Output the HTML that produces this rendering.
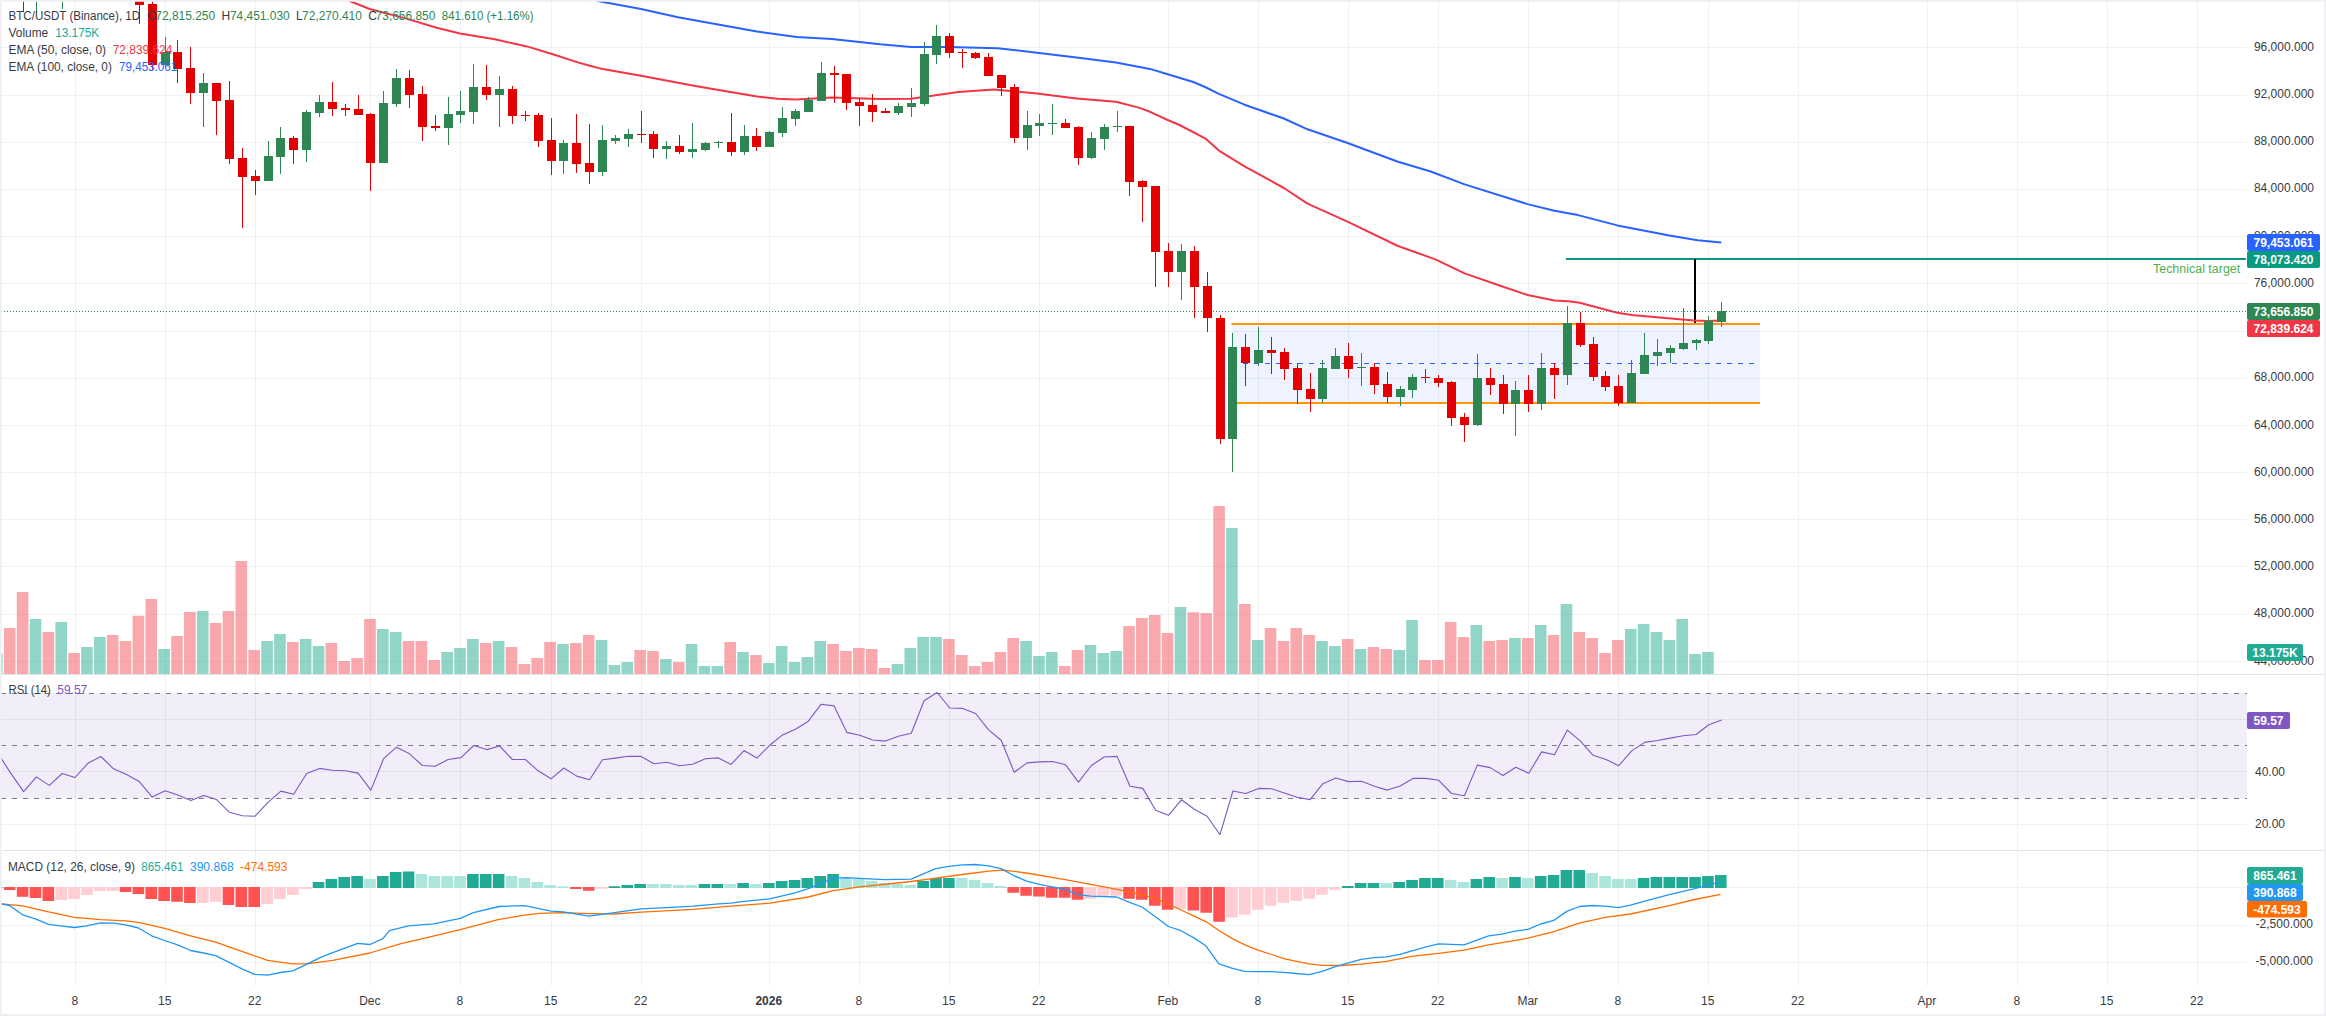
<!DOCTYPE html>
<html><head><meta charset="utf-8"><title>BTC/USDT chart</title>
<style>html,body{margin:0;padding:0;background:#fff;width:2326px;height:1016px;overflow:hidden;position:relative}</style>
</head><body>
<svg width="2326" height="1016" viewBox="0 0 2326 1016" style="position:absolute;left:0;top:0">
<rect x="0" y="0" width="2326" height="1016" fill="#ffffff"/>
<defs>
<clipPath id="cMain"><rect x="0" y="0" width="2247" height="674"/></clipPath>
<clipPath id="cRsi"><rect x="0" y="675" width="2247" height="175"/></clipPath>
<clipPath id="cMacd"><rect x="0" y="851" width="2247" height="135"/></clipPath>
</defs>
<path d="M75.5 0V986 M165.5 0V986 M255.5 0V986 M370.5 0V986 M460.5 0V986 M551.5 0V986 M641.5 0V986 M769.5 0V986 M859.5 0V986 M949.5 0V986 M1039.5 0V986 M1168.5 0V986 M1258.5 0V986 M1348.5 0V986 M1438.5 0V986 M1528.5 0V986 M1618.5 0V986 M1708.5 0V986 M1798.5 0V986 M1927.5 0V986 M2017.5 0V986 M2107.5 0V986 M2197.5 0V986 M0 47.5H2247 M0 95.5H2247 M0 142.5H2247 M0 189.5H2247 M0 236.5H2247 M0 283.5H2247 M0 331.5H2247 M0 378.5H2247 M0 425.5H2247 M0 472.5H2247 M0 519.5H2247 M0 566.5H2247 M0 614.5H2247 M0 661.5H2247 M0 719.5H2247 M0 771.5H2247 M0 824.5H2247 M0 887.5H2247 M0 925.5H2247 M0 962.5H2247" stroke="#e3e6e6" stroke-opacity="0.55" stroke-width="1" fill="none"/>
<g clip-path="url(#cMain)">
<path d="M-8.92 674V653.7H2.68V674Z M29.68 674V619H41.28V674Z M55.41 674V621.9H67.01V674Z M81.14 674V647H92.74V674Z M94.01 674V637H105.61V674Z M158.33 674V648.9H169.93V674Z M196.92 674V610.9H208.53V674Z M261.25 674V641H272.85V674Z M274.12 674V634H285.72V674Z M299.84 674V638.9H311.44V674Z M312.71 674V646.1H324.31V674Z M377.03 674V629.1H388.63V674Z M389.90 674V631.9H401.50V674Z M441.36 674V651.9H452.96V674Z M454.23 674V647.9H465.83V674Z M467.09 674V639H478.69V674Z M492.82 674V640.9H504.42V674Z M557.15 674V643.9H568.75V674Z M595.74 674V640H607.34V674Z M608.61 674V665H620.20V674Z M621.47 674V661.9H633.07V674Z M660.07 674V658.9H671.66V674Z M685.80 674V643.9H697.39V674Z M698.66 674V666.1H710.26V674Z M711.53 674V666.1H723.12V674Z M737.26 674V651.9H748.86V674Z M762.99 674V663H774.58V674Z M775.85 674V646H787.45V674Z M788.72 674V661.9H800.31V674Z M801.58 674V657H813.18V674Z M814.45 674V640.9H826.04V674Z M891.64 674V664H903.24V674Z M904.50 674V647.9H916.10V674Z M917.37 674V636.9H928.96V674Z M930.23 674V636.9H941.83V674Z M1020.29 674V640.9H1031.88V674Z M1033.15 674V656H1044.75V674Z M1046.02 674V651.9H1057.62V674Z M1084.61 674V645.1H1096.21V674Z M1097.48 674V653H1109.08V674Z M1110.34 674V650.9H1121.94V674Z M1174.66 674V607.1H1186.26V674Z M1226.12 674V527.9H1237.72V674Z M1251.86 674V640H1263.45V674Z M1316.18 674V640.9H1327.78V674Z M1329.05 674V646H1340.64V674Z M1354.78 674V649H1366.38V674Z M1393.37 674V650H1404.97V674Z M1406.24 674V619.9H1417.84V674Z M1470.56 674V625H1482.16V674Z M1509.15 674V637.9H1520.75V674Z M1534.88 674V625H1546.48V674Z M1560.62 674V604H1572.21V674Z M1624.94 674V629H1636.54V674Z M1637.81 674V624.1H1649.40V674Z M1650.67 674V632H1662.27V674Z M1663.54 674V640H1675.13V674Z M1676.40 674V619H1688.00V674Z M1689.27 674V654.1H1700.87V674Z M1702.13 674V652H1713.73V674Z" fill="#23a991" fill-opacity="0.5"/>
<path d="M3.95 674V627.9H15.55V674Z M16.81 674V592H28.41V674Z M42.55 674V631.9H54.14V674Z M68.28 674V653.1H79.88V674Z M106.87 674V635.1H118.47V674Z M119.73 674V641H131.34V674Z M132.60 674V615.8H144.20V674Z M145.47 674V599H157.07V674Z M171.19 674V636.1H182.80V674Z M184.06 674V612H195.66V674Z M209.79 674V623H221.39V674Z M222.66 674V610.9H234.26V674Z M235.52 674V561H247.12V674Z M248.38 674V649.9H259.99V674Z M286.98 674V641.9H298.58V674Z M325.57 674V643.1H337.18V674Z M338.44 674V661H350.04V674Z M351.31 674V658H362.91V674Z M364.17 674V619H375.77V674Z M402.76 674V641H414.37V674Z M415.63 674V641H427.23V674Z M428.50 674V660H440.10V674Z M479.95 674V643H491.56V674Z M505.69 674V647H517.29V674Z M518.55 674V664H530.15V674Z M531.42 674V657.9H543.01V674Z M544.28 674V642H555.88V674Z M570.01 674V643H581.61V674Z M582.88 674V635H594.47V674Z M634.34 674V650H645.93V674Z M647.20 674V650.9H658.80V674Z M672.93 674V661.9H684.53V674Z M724.39 674V642H735.99V674Z M750.12 674V654.9H761.72V674Z M827.31 674V643.9H838.91V674Z M840.18 674V650.9H851.77V674Z M853.04 674V647.9H864.64V674Z M865.91 674V649H877.50V674Z M878.77 674V668H890.37V674Z M943.10 674V639H954.69V674Z M955.96 674V654.9H967.56V674Z M968.83 674V666.1H980.42V674Z M981.69 674V661.9H993.29V674Z M994.56 674V651.9H1006.15V674Z M1007.42 674V638.1H1019.02V674Z M1058.88 674V666.1H1070.48V674Z M1071.75 674V650H1083.35V674Z M1123.21 674V626H1134.81V674Z M1136.07 674V618H1147.67V674Z M1148.94 674V615H1160.54V674Z M1161.80 674V633H1173.40V674Z M1187.53 674V612.2H1199.13V674Z M1200.39 674V613.1H1211.99V674Z M1213.26 674V506H1224.86V674Z M1238.99 674V604H1250.59V674Z M1264.72 674V628.1H1276.32V674Z M1277.59 674V640.9H1289.18V674Z M1290.45 674V628.1H1302.05V674Z M1303.32 674V635H1314.91V674Z M1341.91 674V639H1353.51V674Z M1367.64 674V647H1379.24V674Z M1380.51 674V649H1392.11V674Z M1419.10 674V660H1430.70V674Z M1431.97 674V660H1443.57V674Z M1444.83 674V622H1456.43V674Z M1457.70 674V636.9H1469.30V674Z M1483.43 674V640.9H1495.03V674Z M1496.29 674V640H1507.89V674Z M1522.02 674V637.9H1533.62V674Z M1547.75 674V635H1559.35V674Z M1573.48 674V632H1585.08V674Z M1586.35 674V637.9H1597.94V674Z M1599.21 674V653H1610.81V674Z M1612.08 674V640H1623.67V674Z" fill="#f3515b" fill-opacity="0.5"/>
<rect x="1231.5" y="324" width="528.5" height="79" fill="rgb(41,98,255)" fill-opacity="0.08"/>
<path d="M1231.5 324H1760M1231.5 403H1760" stroke="#ff9800" stroke-width="2"/>
<path d="M1232 363.5H1756" stroke="#2962ff" stroke-width="1" stroke-dasharray="5 6"/>
<path d="M1566 259H2246" stroke="#089981" stroke-width="2"/>
<path d="M1695 259V323" stroke="#000000" stroke-width="2"/>
<path d="M340.0 -4.0 L350.3 1.3 L369.7 9.0 L404.5 18.1 L436.7 27.7 L460.0 33.5 L494.8 39.3 L527.0 46.4 L552.8 54.2 L577.8 62.4 L588.9 65.5 L600.0 68.4 L641.0 75.8 L698.0 86.6 L757.0 96.5 L777.0 98.8 L796.5 99.4 L832.0 97.4 L880.0 99.0 L911.0 98.8 L927.0 96.5 L958.4 91.9 L993.9 89.6 L1037.0 93.5 L1076.5 98.4 L1116.0 101.8 L1139.5 107.9 L1150.0 111.8 L1167.7 120.0 L1179.5 125.0 L1205.1 138.3 L1218.9 150.6 L1244.5 166.3 L1283.9 188.0 L1307.5 203.7 L1346.9 221.4 L1398.0 246.0 L1435.4 259.4 L1464.6 273.4 L1500.9 286.0 L1527.6 295.0 L1554.4 300.6 L1568.6 301.3 L1579.6 302.8 L1617.4 312.8 L1631.6 315.1 L1682.0 319.6 L1694.8 320.5 L1708.0 320.9 L1721.3 320.6" stroke="#f23645" stroke-width="2" fill="none" stroke-linejoin="round"/>
<path d="M590.0 -2.0 L597.7 1.0 L641.0 8.9 L678.0 17.3 L718.0 24.6 L757.0 31.5 L796.5 37.0 L832.0 39.0 L880.0 44.3 L911.0 46.9 L948.6 46.9 L997.8 48.2 L1037.0 52.8 L1076.5 57.5 L1116.0 62.6 L1139.5 66.9 L1150.0 68.9 L1167.7 74.2 L1193.3 82.0 L1205.1 87.0 L1218.9 93.9 L1244.5 104.7 L1283.9 118.5 L1307.5 129.3 L1346.9 142.7 L1398.0 161.8 L1430.0 171.3 L1464.6 184.4 L1527.6 204.1 L1554.4 210.7 L1578.0 215.1 L1617.4 225.4 L1669.4 235.6 L1697.7 240.3 L1721.3 242.4" stroke="#2962ff" stroke-width="2" fill="none" stroke-linejoin="round"/>
<path d="M1 311.5H2247" stroke="#2e8653" stroke-width="1" stroke-dasharray="1 2"/>
<path d="M36.0 -20h1V12h-1Z M32.0 -20h9V-10h-9Z M62.0 -20h1V9h-1Z M58.0 -20h9V-10h-9Z M165.0 37h1V65h-1Z M161.0 52h9V65h-9Z M203.0 73h1V127h-1Z M199.0 83h9V93h-9Z M268.0 141h1V181h-1Z M264.0 156h9V181h-9Z M280.0 127h1V174h-1Z M276.0 138h9V157h-9Z M306.0 110h1V162h-1Z M302.0 112h9V150h-9Z M319.0 95h1V117h-1Z M315.0 102h9V113h-9Z M383.0 91h1V163h-1Z M379.0 103h9V163h-9Z M396.0 69h1V107h-1Z M392.0 78h9V104h-9Z M448.0 97h1V145h-1Z M444.0 114h9V128h-9Z M460.0 91h1V123h-1Z M456.0 111h9V115h-9Z M473.0 64h1V124h-1Z M469.0 87h9V112h-9Z M499.0 76h1V127h-1Z M495.0 89h9V95h-9Z M563.0 140h1V174h-1Z M559.0 143h9V161h-9Z M602.0 125h1V176h-1Z M598.0 140h9V172h-9Z M615.0 135h1V144h-1Z M611.0 138h9V141h-9Z M628.0 129h1V147h-1Z M624.0 134h9V139h-9Z M666.0 141h1V159h-1Z M662.0 146h9V149h-9Z M692.0 123h1V158h-1Z M688.0 149h9V152h-9Z M705.0 142h1V151h-1Z M701.0 143h9V150h-9Z M718.0 141h1V148h-1Z M714.0 142h9V143h-9Z M744.0 125h1V155h-1Z M740.0 136h9V152h-9Z M769.0 131h1V147h-1Z M765.0 132h9V147h-9Z M782.0 107h1V137h-1Z M778.0 118h9V133h-9Z M795.0 109h1V126h-1Z M791.0 111h9V119h-9Z M808.0 97h1V112h-1Z M804.0 100h9V112h-9Z M821.0 62h1V101h-1Z M817.0 73h9V101h-9Z M898.0 103h1V115h-1Z M894.0 106h9V113h-9Z M911.0 88h1V117h-1Z M907.0 103h9V107h-9Z M924.0 42h1V106h-1Z M920.0 54h9V104h-9Z M936.0 25h1V64h-1Z M932.0 36h9V55h-9Z M1027.0 111h1V150h-1Z M1023.0 125h9V138h-9Z M1039.0 114h1V136h-1Z M1035.0 123h9V126h-9Z M1052.0 104h1V135h-1Z M1048.0 123h9V124h-9Z M1091.0 132h1V159h-1Z M1087.0 138h9V158h-9Z M1104.0 124h1V150h-1Z M1100.0 127h9V139h-9Z M1117.0 111h1V132h-1Z M1113.0 126h9V127h-9Z M1181.0 244h1V300h-1Z M1177.0 251h9V272h-9Z M1232.0 333h1V472h-1Z M1228.0 347h9V439h-9Z M1258.0 327h1V366h-1Z M1254.0 350h9V363h-9Z M1322.0 360h1V403h-1Z M1318.0 368h9V399h-9Z M1335.0 348h1V369h-1Z M1331.0 356h9V369h-9Z M1361.0 353h1V386h-1Z M1357.0 367h9V368h-9Z M1400.0 386h1V406h-1Z M1396.0 389h9V397h-9Z M1412.0 374h1V398h-1Z M1408.0 377h9V390h-9Z M1477.0 354h1V426h-1Z M1473.0 378h9V425h-9Z M1515.0 381h1V436h-1Z M1511.0 390h9V404h-9Z M1541.0 353h1V410h-1Z M1537.0 368h9V404h-9Z M1567.0 306h1V385h-1Z M1563.0 323h9V375h-9Z M1631.0 360h1V403h-1Z M1627.0 373h9V403h-9Z M1644.0 333h1V374h-1Z M1640.0 355h9V374h-9Z M1657.0 339h1V366h-1Z M1653.0 352h9V356h-9Z M1670.0 345h1V363h-1Z M1666.0 348h9V353h-9Z M1683.0 308h1V350h-1Z M1679.0 343h9V349h-9Z M1696.0 339h1V350h-1Z M1692.0 340h9V343h-9Z M1708.0 316h1V344h-1Z M1704.0 321h9V341h-9Z M1721.0 302h1V327h-1Z M1717.0 311h9V322h-9Z" fill="#2e8653" shape-rendering="crispEdges"/>
<path d="M23.0 -20h1V12h-1Z M19.0 -20h9V-10h-9Z M139.0 -10h1V24h-1Z M135.0 -5h9V5h-9Z M152.0 2h1V70h-1Z M148.0 4h9V65h-9Z M177.0 40h1V83h-1Z M173.0 52h9V69h-9Z M190.0 47h1V104h-1Z M186.0 68h9V93h-9Z M216.0 83h1V135h-1Z M212.0 83h9V101h-9Z M229.0 81h1V164h-1Z M225.0 100h9V159h-9Z M242.0 148h1V228h-1Z M238.0 158h9V177h-9Z M255.0 170h1V195h-1Z M251.0 176h9V181h-9Z M293.0 136h1V164h-1Z M289.0 138h9V150h-9Z M332.0 82h1V116h-1Z M328.0 102h9V109h-9Z M345.0 104h1V116h-1Z M341.0 108h9V110h-9Z M358.0 95h1V115h-1Z M354.0 109h9V115h-9Z M370.0 113h1V191h-1Z M366.0 114h9V163h-9Z M409.0 70h1V108h-1Z M405.0 78h9V95h-9Z M422.0 86h1V141h-1Z M418.0 94h9V127h-9Z M435.0 115h1V131h-1Z M431.0 126h9V128h-9Z M486.0 65h1V100h-1Z M482.0 87h9V95h-9Z M512.0 86h1V124h-1Z M508.0 89h9V116h-9Z M525.0 111h1V121h-1Z M521.0 115h9V116h-9Z M538.0 113h1V147h-1Z M534.0 115h9V141h-9Z M551.0 118h1V175h-1Z M547.0 140h9V161h-9Z M576.0 114h1V173h-1Z M572.0 143h9V164h-9Z M589.0 124h1V184h-1Z M585.0 163h9V172h-9Z M641.0 111h1V143h-1Z M637.0 134h9V135h-9Z M653.0 131h1V158h-1Z M649.0 134h9V149h-9Z M679.0 135h1V154h-1Z M675.0 146h9V152h-9Z M731.0 113h1V156h-1Z M727.0 142h9V152h-9Z M756.0 128h1V151h-1Z M752.0 136h9V147h-9Z M834.0 66h1V103h-1Z M830.0 73h9V75h-9Z M846.0 74h1V110h-1Z M842.0 74h9V103h-9Z M859.0 98h1V126h-1Z M855.0 102h9V106h-9Z M872.0 94h1V122h-1Z M868.0 105h9V112h-9Z M885.0 108h1V113h-1Z M881.0 111h9V113h-9Z M949.0 33h1V58h-1Z M945.0 36h9V53h-9Z M962.0 49h1V68h-1Z M958.0 52h9V53h-9Z M975.0 52h1V59h-1Z M971.0 53h9V58h-9Z M988.0 53h1V76h-1Z M984.0 57h9V76h-9Z M1001.0 75h1V96h-1Z M997.0 75h9V88h-9Z M1014.0 84h1V143h-1Z M1010.0 87h9V138h-9Z M1065.0 119h1V128h-1Z M1061.0 123h9V128h-9Z M1078.0 126h1V165h-1Z M1074.0 127h9V158h-9Z M1129.0 126h1V196h-1Z M1125.0 126h9V182h-9Z M1142.0 180h1V222h-1Z M1138.0 181h9V187h-9Z M1155.0 186h1V287h-1Z M1151.0 186h9V252h-9Z M1168.0 243h1V287h-1Z M1164.0 251h9V272h-9Z M1194.0 246h1V318h-1Z M1190.0 251h9V287h-9Z M1207.0 272h1V332h-1Z M1203.0 286h9V318h-9Z M1220.0 315h1V444h-1Z M1216.0 318h9V439h-9Z M1245.0 334h1V386h-1Z M1241.0 347h9V363h-9Z M1271.0 337h1V374h-1Z M1267.0 350h9V353h-9Z M1284.0 348h1V380h-1Z M1280.0 352h9V369h-9Z M1297.0 363h1V404h-1Z M1293.0 368h9V390h-9Z M1310.0 373h1V412h-1Z M1306.0 389h9V399h-9Z M1348.0 343h1V378h-1Z M1344.0 356h9V369h-9Z M1374.0 363h1V394h-1Z M1370.0 367h9V385h-9Z M1387.0 372h1V403h-1Z M1383.0 384h9V397h-9Z M1425.0 369h1V383h-1Z M1421.0 377h9V378h-9Z M1438.0 375h1V387h-1Z M1434.0 378h9V383h-9Z M1451.0 381h1V426h-1Z M1447.0 382h9V418h-9Z M1464.0 413h1V442h-1Z M1460.0 417h9V425h-9Z M1490.0 368h1V395h-1Z M1486.0 378h9V385h-9Z M1503.0 375h1V414h-1Z M1499.0 384h9V404h-9Z M1528.0 375h1V412h-1Z M1524.0 390h9V404h-9Z M1554.0 363h1V399h-1Z M1550.0 368h9V375h-9Z M1580.0 312h1V347h-1Z M1576.0 323h9V345h-9Z M1593.0 337h1V381h-1Z M1589.0 344h9V377h-9Z M1605.0 371h1V391h-1Z M1601.0 376h9V387h-9Z M1618.0 375h1V406h-1Z M1614.0 386h9V403h-9Z" fill="#e20000" shape-rendering="crispEdges"/>
</g>
<text x="2153" y="273" font-family='"Liberation Sans", sans-serif' font-size="12" fill="#4caf50" textLength="87.2" lengthAdjust="spacingAndGlyphs">Technical target</text>
<g clip-path="url(#cRsi)">
<rect x="0" y="693" width="2247" height="105.5" fill="rgb(126,87,194)" fill-opacity="0.1"/>
<path d="M1 693.5H2247" stroke="#787b86" stroke-width="1" stroke-dasharray="5 6"/>
<path d="M1 745.5H2247" stroke="#787b86" stroke-width="1" stroke-dasharray="5 6"/>
<path d="M1 798.5H2247" stroke="#787b86" stroke-width="1" stroke-dasharray="5 6"/>
<path d="M-2.2 753.2 L10.7 773.1 L23.6 791.6 L36.4 776.9 L49.3 785.4 L62.2 773.5 L75.0 777.5 L87.9 763.3 L100.8 756.5 L113.6 768.8 L126.5 774.6 L139.3 781.6 L152.2 797.1 L165.1 790.7 L177.9 794.9 L190.8 800.5 L203.7 795.4 L216.5 799.6 L229.4 812.3 L242.3 815.7 L255.1 816.2 L268.0 802.4 L280.9 791.1 L293.7 794.3 L306.6 773.5 L319.5 768.4 L332.3 770.3 L345.2 770.8 L358.1 773.1 L370.9 790.1 L383.8 758.3 L396.6 747.2 L409.5 753.8 L422.4 765.5 L435.2 766.2 L448.1 759.5 L461.0 757.6 L473.8 745.5 L486.7 749.6 L499.6 746.0 L512.4 759.5 L525.3 759.5 L538.2 770.8 L551.0 778.8 L563.9 768.0 L576.8 776.1 L589.6 779.7 L602.5 759.8 L615.4 758.1 L628.2 756.2 L641.1 756.4 L654.0 763.8 L666.8 762.3 L679.7 765.7 L692.5 764.2 L705.4 758.7 L718.3 757.9 L731.1 764.4 L744.0 750.6 L756.9 758.1 L769.7 745.3 L782.6 734.9 L795.5 729.2 L808.3 721.2 L821.2 704.2 L834.1 705.9 L846.9 732.4 L859.8 735.3 L872.7 740.0 L885.5 741.1 L898.4 736.2 L911.3 733.2 L924.1 700.8 L937.0 692.5 L949.8 708.0 L962.7 708.4 L975.6 713.5 L988.4 729.6 L1001.3 740.5 L1014.2 772.3 L1027.0 762.9 L1039.9 761.9 L1052.8 761.5 L1065.6 764.8 L1078.5 782.2 L1091.4 765.5 L1104.2 757.0 L1117.1 756.4 L1130.0 786.3 L1142.8 788.4 L1155.7 810.2 L1168.5 815.3 L1181.4 799.8 L1194.3 809.2 L1207.1 816.2 L1220.0 834.7 L1232.9 791.0 L1245.7 793.5 L1258.6 788.4 L1271.5 788.8 L1284.3 792.9 L1297.2 797.3 L1310.1 799.6 L1322.9 783.7 L1335.8 778.0 L1348.7 781.6 L1361.5 781.2 L1374.4 786.3 L1387.3 790.1 L1400.1 785.9 L1413.0 778.4 L1425.9 778.4 L1438.7 780.3 L1451.6 793.5 L1464.4 795.8 L1477.3 765.1 L1490.2 767.6 L1503.0 775.5 L1515.9 767.2 L1528.8 773.3 L1541.6 751.9 L1554.5 754.7 L1567.4 730.1 L1580.2 740.9 L1593.1 755.3 L1606.0 759.5 L1618.8 765.7 L1631.7 750.9 L1644.6 742.4 L1657.4 740.5 L1670.3 738.1 L1683.2 735.8 L1696.0 734.5 L1708.9 724.8 L1721.7 719.9" stroke="#7e57c2" stroke-width="1.1" fill="none" stroke-linejoin="round"/>
</g>
<g clip-path="url(#cMacd)">
<path d="M-8.92 888V887H2.68V888Z M312.71 888V881.9H324.31V888Z M325.57 888V879H337.18V888Z M338.44 888V876.9H350.04V888Z M351.31 888V876H362.91V888Z M377.03 888V876H388.63V888Z M389.90 888V872H401.50V888Z M402.76 888V871.5H414.37V888Z M467.09 888V874.1H478.69V888Z M479.95 888V874.1H491.56V888Z M492.82 888V874.1H504.42V888Z M608.61 888V886.2H620.20V888Z M621.47 888V884.9H633.07V888Z M634.34 888V883.9H645.93V888Z M698.66 888V883.9H710.26V888Z M711.53 888V883.9H723.12V888Z M737.26 888V883H748.86V888Z M762.99 888V883H774.58V888Z M775.85 888V880.9H787.45V888Z M788.72 888V880H800.31V888Z M801.58 888V878.1H813.18V888Z M814.45 888V876H826.04V888Z M827.31 888V874.1H838.91V888Z M917.37 888V880.9H928.96V888Z M930.23 888V878.1H941.83V888Z M943.10 888V878.1H954.69V888Z M1341.91 888V886H1353.51V888Z M1354.78 888V883H1366.38V888Z M1367.64 888V883H1379.24V888Z M1393.37 888V882.1H1404.97V888Z M1406.24 888V880H1417.84V888Z M1419.10 888V878.1H1430.70V888Z M1431.97 888V878.1H1443.57V888Z M1470.56 888V879H1482.16V888Z M1483.43 888V876.9H1495.03V888Z M1509.15 888V876.9H1520.75V888Z M1534.88 888V876H1546.48V888Z M1547.75 888V875.1H1559.35V888Z M1560.62 888V870H1572.21V888Z M1573.48 888V870H1585.08V888Z M1637.81 888V878.1H1649.40V888Z M1650.67 888V876.9H1662.27V888Z M1663.54 888V876.9H1675.13V888Z M1676.40 888V876.9H1688.00V888Z M1689.27 888V876.9H1700.87V888Z M1702.13 888V876H1713.73V888Z M1715.00 888V875.1H1726.60V888Z" fill="#22ab94"/>
<path d="M364.17 888V879H375.77V888Z M415.63 888V874H427.23V888Z M428.50 888V876H440.10V888Z M441.36 888V876H452.96V888Z M454.23 888V876H465.83V888Z M505.69 888V876H517.29V888Z M518.55 888V878.1H530.15V888Z M531.42 888V882.1H543.01V888Z M544.28 888V884.9H555.88V888Z M557.15 888V886.2H568.75V888Z M647.20 888V883.9H658.80V888Z M660.07 888V883.9H671.66V888Z M672.93 888V884.9H684.53V888Z M685.80 888V884.9H697.39V888Z M724.39 888V883.9H735.99V888Z M750.12 888V883.9H761.72V888Z M840.18 888V878.1H851.77V888Z M853.04 888V879H864.64V888Z M865.91 888V880.9H877.50V888Z M878.77 888V883H890.37V888Z M891.64 888V883.9H903.24V888Z M904.50 888V884.9H916.10V888Z M955.96 888V878.1H967.56V888Z M968.83 888V880H980.42V888Z M981.69 888V883H993.29V888Z M994.56 888V886H1006.15V888Z M1380.51 888V883H1392.11V888Z M1444.83 888V880H1456.43V888Z M1457.70 888V882.1H1469.30V888Z M1496.29 888V878.1H1507.89V888Z M1522.02 888V878.1H1533.62V888Z M1586.35 888V873H1597.94V888Z M1599.21 888V876H1610.81V888Z M1612.08 888V879H1623.67V888Z M1624.94 888V879H1636.54V888Z" fill="#ace5dc"/>
<path d="M3.95 887V889.9H15.55V887Z M16.81 887V896.8H28.41V887Z M29.68 887V897.9H41.28V887Z M42.55 887V901H54.14V887Z M119.73 887V892H131.34V887Z M132.60 887V894H144.20V887Z M145.47 887V898.9H157.07V887Z M158.33 887V901H169.93V887Z M171.19 887V901.8H182.80V887Z M184.06 887V902.9H195.66V887Z M222.66 887V905H234.26V887Z M235.52 887V906.9H247.12V887Z M248.38 887V906.9H259.99V887Z M570.01 887V889.1H581.61V887Z M582.88 887V890.8H594.47V887Z M1007.42 887V892.8H1019.02V887Z M1020.29 887V895.7H1031.88V887Z M1033.15 887V896.6H1044.75V887Z M1046.02 887V897.8H1057.62V887Z M1058.88 887V897.8H1070.48V887Z M1071.75 887V899.8H1083.35V887Z M1123.21 887V898.7H1134.81V887Z M1136.07 887V899.8H1147.67V887Z M1148.94 887V905.7H1160.54V887Z M1161.80 887V909.7H1173.40V887Z M1187.53 887V910.6H1199.13V887Z M1200.39 887V912.7H1211.99V887Z M1213.26 887V921.8H1224.86V887Z" fill="#ff5252"/>
<path d="M55.41 887V899.9H67.01V887Z M68.28 887V898.9H79.88V887Z M81.14 887V894.9H92.74V887Z M94.01 887V890.9H105.61V887Z M106.87 887V890.9H118.47V887Z M196.92 887V902.9H208.53V887Z M209.79 887V901.8H221.39V887Z M261.25 887V903.9H272.85V887Z M274.12 887V898.9H285.72V887Z M286.98 887V894.9H298.58V887Z M299.84 887V889H311.44V887Z M595.74 887V888.7H607.34V887Z M1084.61 887V898.7H1096.21V887Z M1097.48 887V895.7H1109.08V887Z M1110.34 887V895.7H1121.94V887Z M1174.66 887V908.7H1186.26V887Z M1226.12 887V917.6H1237.72V887Z M1238.99 887V914.8H1250.59V887Z M1251.86 887V909.7H1263.45V887Z M1264.72 887V905.7H1276.32V887Z M1277.59 887V902.7H1289.18V887Z M1290.45 887V900.8H1302.05V887Z M1303.32 887V898.7H1314.91V887Z M1316.18 887V894.7H1327.78V887Z M1329.05 887V889.8H1340.64V887Z" fill="#ffcdd2"/>
<path d="M-5.0 903.5 L1.4 903.8 L22.5 905.8 L48.5 911.9 L74.5 917.4 L100.5 919.7 L125.6 920.9 L138.6 922.3 L164.6 928.3 L190.6 935.8 L215.7 942.2 L242.5 951.7 L267.6 960.4 L292.8 963.9 L306.6 963.9 L332.6 960.4 L369.9 953.0 L400.0 943.9 L430.0 936.9 L460.3 929.7 L499.0 919.3 L524.6 915.2 L539.7 913.3 L563.4 912.7 L588.9 913.6 L614.5 914.0 L641.0 912.1 L693.0 909.3 L730.8 906.1 L769.6 903.2 L808.4 897.0 L833.0 890.6 L860.0 886.8 L911.1 881.5 L935.7 878.1 L962.2 874.5 L988.6 871.1 L1003.8 870.1 L1026.5 873.0 L1065.3 879.6 L1104.0 886.8 L1129.6 891.9 L1155.1 898.1 L1180.0 909.5 L1193.1 915.7 L1206.2 921.8 L1219.3 930.7 L1232.4 938.6 L1245.5 945.2 L1258.6 950.3 L1271.7 954.5 L1284.8 958.8 L1297.9 961.6 L1309.1 963.9 L1322.2 965.3 L1341.1 965.5 L1361.0 964.2 L1386.5 961.3 L1413.0 956.2 L1438.5 953.4 L1464.0 950.2 L1488.6 944.9 L1528.0 938.2 L1553.9 931.6 L1579.4 923.1 L1605.0 917.4 L1630.5 914.0 L1669.3 905.7 L1694.8 899.5 L1720.4 894.3" stroke="#ff6d00" stroke-width="1.3" fill="none" stroke-linejoin="round"/>
<path d="M-5.0 902.0 L1.4 903.8 L9.5 905.5 L22.5 914.8 L35.5 918.8 L48.5 924.4 L60.6 925.8 L74.5 927.5 L86.6 925.8 L100.5 922.8 L113.5 923.2 L125.6 924.9 L138.6 928.0 L151.6 935.8 L164.6 940.5 L177.6 944.8 L190.6 950.5 L203.6 953.0 L215.7 955.7 L228.7 962.1 L242.5 969.1 L254.7 974.3 L267.6 975.1 L280.6 972.5 L292.8 970.8 L306.6 964.4 L319.6 957.8 L332.6 952.6 L345.6 947.8 L357.7 943.4 L369.9 944.5 L382.9 938.7 L389.4 930.7 L408.3 925.9 L433.3 923.8 L460.3 918.4 L473.5 912.7 L499.0 906.5 L524.6 905.7 L551.1 911.2 L563.4 911.8 L588.9 916.1 L614.5 912.7 L641.0 908.9 L666.5 907.6 L693.0 906.1 L718.5 903.8 L730.8 903.2 L744.0 901.3 L769.6 898.9 L795.1 892.8 L808.4 888.7 L833.0 878.3 L846.2 877.7 L860.0 878.3 L884.6 879.6 L911.1 879.2 L935.7 868.6 L948.9 866.4 L962.2 864.8 L975.4 864.5 L988.6 865.8 L1001.0 868.6 L1014.2 875.8 L1026.5 881.1 L1039.7 884.3 L1052.0 886.8 L1065.3 889.4 L1077.6 894.7 L1090.8 896.2 L1116.3 897.0 L1129.6 902.3 L1141.9 907.0 L1155.1 916.5 L1168.4 926.5 L1181.0 930.7 L1193.9 937.9 L1205.8 945.8 L1218.9 963.8 L1231.7 968.1 L1244.6 971.3 L1258.2 971.7 L1270.5 971.7 L1283.8 972.3 L1296.0 973.5 L1308.9 974.6 L1322.2 971.3 L1335.4 966.6 L1361.0 959.4 L1374.2 957.7 L1386.5 956.8 L1399.7 954.3 L1425.3 947.1 L1438.5 943.9 L1464.0 944.9 L1488.6 935.8 L1501.9 934.1 L1515.1 931.2 L1528.0 929.3 L1540.7 924.0 L1553.9 920.3 L1566.8 911.4 L1579.4 906.5 L1592.7 905.5 L1605.0 906.1 L1618.2 907.6 L1630.5 905.1 L1643.8 901.3 L1669.3 894.7 L1694.8 888.7 L1720.4 881.9" stroke="#2196f3" stroke-width="1.3" fill="none" stroke-linejoin="round"/>
</g>
<path d="M0 674.5H2326M0 850.5H2326" stroke="#e0e3eb" stroke-width="1"/>
<path d="M0 0H2326V1016H0Z M1.7 1.7V1014H2324V1.7Z" fill="#f0f0f4" fill-rule="evenodd"/>
<text x="2314" y="50.7" font-family='"Liberation Sans", sans-serif' font-size="12" fill="#383b44" text-anchor="end" font-weight="normal" >96,000.000</text>
<text x="2314" y="97.92999999999999" font-family='"Liberation Sans", sans-serif' font-size="12" fill="#383b44" text-anchor="end" font-weight="normal" >92,000.000</text>
<text x="2314" y="145.15999999999997" font-family='"Liberation Sans", sans-serif' font-size="12" fill="#383b44" text-anchor="end" font-weight="normal" >88,000.000</text>
<text x="2314" y="192.39" font-family='"Liberation Sans", sans-serif' font-size="12" fill="#383b44" text-anchor="end" font-weight="normal" >84,000.000</text>
<text x="2314" y="239.61999999999998" font-family='"Liberation Sans", sans-serif' font-size="12" fill="#383b44" text-anchor="end" font-weight="normal" >80,000.000</text>
<text x="2314" y="286.84999999999997" font-family='"Liberation Sans", sans-serif' font-size="12" fill="#383b44" text-anchor="end" font-weight="normal" >76,000.000</text>
<text x="2314" y="334.08" font-family='"Liberation Sans", sans-serif' font-size="12" fill="#383b44" text-anchor="end" font-weight="normal" >72,000.000</text>
<text x="2314" y="381.30999999999995" font-family='"Liberation Sans", sans-serif' font-size="12" fill="#383b44" text-anchor="end" font-weight="normal" >68,000.000</text>
<text x="2314" y="428.53999999999996" font-family='"Liberation Sans", sans-serif' font-size="12" fill="#383b44" text-anchor="end" font-weight="normal" >64,000.000</text>
<text x="2314" y="475.77" font-family='"Liberation Sans", sans-serif' font-size="12" fill="#383b44" text-anchor="end" font-weight="normal" >60,000.000</text>
<text x="2314" y="523.0" font-family='"Liberation Sans", sans-serif' font-size="12" fill="#383b44" text-anchor="end" font-weight="normal" >56,000.000</text>
<text x="2314" y="570.23" font-family='"Liberation Sans", sans-serif' font-size="12" fill="#383b44" text-anchor="end" font-weight="normal" >52,000.000</text>
<text x="2314" y="617.46" font-family='"Liberation Sans", sans-serif' font-size="12" fill="#383b44" text-anchor="end" font-weight="normal" >48,000.000</text>
<text x="2314" y="664.69" font-family='"Liberation Sans", sans-serif' font-size="12" fill="#383b44" text-anchor="end" font-weight="normal" >44,000.000</text>
<text x="2285" y="775.5" font-family='"Liberation Sans", sans-serif' font-size="12" fill="#383b44" text-anchor="end" font-weight="normal" >40.00</text>
<text x="2285" y="828" font-family='"Liberation Sans", sans-serif' font-size="12" fill="#383b44" text-anchor="end" font-weight="normal" >20.00</text>
<text x="2313" y="928" font-family='"Liberation Sans", sans-serif' font-size="12" fill="#383b44" text-anchor="end" font-weight="normal" >-2,500.000</text>
<text x="2313" y="964.5" font-family='"Liberation Sans", sans-serif' font-size="12" fill="#383b44" text-anchor="end" font-weight="normal" >-5,000.000</text>
<rect x="2247" y="234" width="73" height="17" rx="2" fill="#2962ff"/>
<text x="2283.5" y="246.8" font-family='"Liberation Sans", sans-serif' font-size="12" fill="#ffffff" text-anchor="middle" font-weight="bold" >79,453.061</text>
<rect x="2247" y="251" width="73" height="17" rx="2" fill="#089981"/>
<text x="2283.5" y="263.8" font-family='"Liberation Sans", sans-serif' font-size="12" fill="#ffffff" text-anchor="middle" font-weight="bold" >78,073.420</text>
<rect x="2247" y="303" width="73" height="17" rx="2" fill="#2e8653"/>
<text x="2283.5" y="315.8" font-family='"Liberation Sans", sans-serif' font-size="12" fill="#ffffff" text-anchor="middle" font-weight="bold" >73,656.850</text>
<rect x="2247" y="320" width="73" height="17" rx="2" fill="#f23645"/>
<text x="2283.5" y="332.8" font-family='"Liberation Sans", sans-serif' font-size="12" fill="#ffffff" text-anchor="middle" font-weight="bold" >72,839.624</text>
<rect x="2247" y="644" width="56" height="17" rx="2" fill="#22ab94"/>
<text x="2275.0" y="656.8" font-family='"Liberation Sans", sans-serif' font-size="12" fill="#ffffff" text-anchor="middle" font-weight="bold" >13.175K</text>
<rect x="2247" y="712" width="43" height="17" rx="2" fill="#7e57c2"/>
<text x="2268.5" y="724.8" font-family='"Liberation Sans", sans-serif' font-size="12" fill="#ffffff" text-anchor="middle" font-weight="bold" >59.57</text>
<rect x="2247" y="867" width="56" height="17" rx="2" fill="#22ab94"/>
<text x="2275.0" y="879.8" font-family='"Liberation Sans", sans-serif' font-size="12" fill="#ffffff" text-anchor="middle" font-weight="bold" >865.461</text>
<rect x="2247" y="884" width="56" height="17" rx="2" fill="#2196f3"/>
<text x="2275.0" y="896.8" font-family='"Liberation Sans", sans-serif' font-size="12" fill="#ffffff" text-anchor="middle" font-weight="bold" >390.868</text>
<rect x="2247" y="901" width="60" height="16.600000000000023" rx="2" fill="#ff6d00"/>
<text x="2277.0" y="913.5999999999999" font-family='"Liberation Sans", sans-serif' font-size="12" fill="#ffffff" text-anchor="middle" font-weight="bold" >-474.593</text>
<text x="74.8" y="1005" font-family='"Liberation Sans", sans-serif' font-size="12" fill="#383b44" text-anchor="middle" font-weight="normal" >8</text>
<text x="164.8" y="1005" font-family='"Liberation Sans", sans-serif' font-size="12" fill="#383b44" text-anchor="middle" font-weight="normal" >15</text>
<text x="254.8" y="1005" font-family='"Liberation Sans", sans-serif' font-size="12" fill="#383b44" text-anchor="middle" font-weight="normal" >22</text>
<text x="369.8" y="1005" font-family='"Liberation Sans", sans-serif' font-size="12" fill="#383b44" text-anchor="middle" font-weight="normal" >Dec</text>
<text x="459.8" y="1005" font-family='"Liberation Sans", sans-serif' font-size="12" fill="#383b44" text-anchor="middle" font-weight="normal" >8</text>
<text x="550.8" y="1005" font-family='"Liberation Sans", sans-serif' font-size="12" fill="#383b44" text-anchor="middle" font-weight="normal" >15</text>
<text x="640.8" y="1005" font-family='"Liberation Sans", sans-serif' font-size="12" fill="#383b44" text-anchor="middle" font-weight="normal" >22</text>
<text x="768.8" y="1005" font-family='"Liberation Sans", sans-serif' font-size="12" fill="#383b44" text-anchor="middle" font-weight="bold" >2026</text>
<text x="858.8" y="1005" font-family='"Liberation Sans", sans-serif' font-size="12" fill="#383b44" text-anchor="middle" font-weight="normal" >8</text>
<text x="948.8" y="1005" font-family='"Liberation Sans", sans-serif' font-size="12" fill="#383b44" text-anchor="middle" font-weight="normal" >15</text>
<text x="1038.8" y="1005" font-family='"Liberation Sans", sans-serif' font-size="12" fill="#383b44" text-anchor="middle" font-weight="normal" >22</text>
<text x="1167.8" y="1005" font-family='"Liberation Sans", sans-serif' font-size="12" fill="#383b44" text-anchor="middle" font-weight="normal" >Feb</text>
<text x="1257.8" y="1005" font-family='"Liberation Sans", sans-serif' font-size="12" fill="#383b44" text-anchor="middle" font-weight="normal" >8</text>
<text x="1347.8" y="1005" font-family='"Liberation Sans", sans-serif' font-size="12" fill="#383b44" text-anchor="middle" font-weight="normal" >15</text>
<text x="1437.8" y="1005" font-family='"Liberation Sans", sans-serif' font-size="12" fill="#383b44" text-anchor="middle" font-weight="normal" >22</text>
<text x="1527.8" y="1005" font-family='"Liberation Sans", sans-serif' font-size="12" fill="#383b44" text-anchor="middle" font-weight="normal" >Mar</text>
<text x="1617.8" y="1005" font-family='"Liberation Sans", sans-serif' font-size="12" fill="#383b44" text-anchor="middle" font-weight="normal" >8</text>
<text x="1707.8" y="1005" font-family='"Liberation Sans", sans-serif' font-size="12" fill="#383b44" text-anchor="middle" font-weight="normal" >15</text>
<text x="1797.8" y="1005" font-family='"Liberation Sans", sans-serif' font-size="12" fill="#383b44" text-anchor="middle" font-weight="normal" >22</text>
<text x="1926.8" y="1005" font-family='"Liberation Sans", sans-serif' font-size="12" fill="#383b44" text-anchor="middle" font-weight="normal" >Apr</text>
<text x="2016.8" y="1005" font-family='"Liberation Sans", sans-serif' font-size="12" fill="#383b44" text-anchor="middle" font-weight="normal" >8</text>
<text x="2106.8" y="1005" font-family='"Liberation Sans", sans-serif' font-size="12" fill="#383b44" text-anchor="middle" font-weight="normal" >15</text>
<text x="2196.8" y="1005" font-family='"Liberation Sans", sans-serif' font-size="12" fill="#383b44" text-anchor="middle" font-weight="normal" >22</text>
<text x="8.6" y="19.8" font-family='"Liberation Sans", sans-serif' font-size="12" fill="#383b44" text-anchor="start" font-weight="normal"  textLength="131.5" lengthAdjust="spacingAndGlyphs">BTC/USDT (Binance), 1D</text>
<text x="147.3" y="19.8" font-family='"Liberation Sans", sans-serif' font-size="12" fill="#383b44" text-anchor="start" font-weight="normal" >O</text>
<text x="155.3" y="19.8" font-family='"Liberation Sans", sans-serif' font-size="12" fill="#2e8653" text-anchor="start" font-weight="normal"  textLength="59.8" lengthAdjust="spacingAndGlyphs">72,815.250</text>
<text x="221.5" y="19.8" font-family='"Liberation Sans", sans-serif' font-size="12" fill="#383b44" text-anchor="start" font-weight="normal" >H</text>
<text x="229.9" y="19.8" font-family='"Liberation Sans", sans-serif' font-size="12" fill="#2e8653" text-anchor="start" font-weight="normal"  textLength="59.8" lengthAdjust="spacingAndGlyphs">74,451.030</text>
<text x="296" y="19.8" font-family='"Liberation Sans", sans-serif' font-size="12" fill="#383b44" text-anchor="start" font-weight="normal" >L</text>
<text x="302.1" y="19.8" font-family='"Liberation Sans", sans-serif' font-size="12" fill="#2e8653" text-anchor="start" font-weight="normal"  textLength="59.8" lengthAdjust="spacingAndGlyphs">72,270.410</text>
<text x="368.2" y="19.8" font-family='"Liberation Sans", sans-serif' font-size="12" fill="#383b44" text-anchor="start" font-weight="normal" >C</text>
<text x="375.6" y="19.8" font-family='"Liberation Sans", sans-serif' font-size="12" fill="#2e8653" text-anchor="start" font-weight="normal"  textLength="59.8" lengthAdjust="spacingAndGlyphs">73,656.850</text>
<text x="441.8" y="19.8" font-family='"Liberation Sans", sans-serif' font-size="12" fill="#2e8653" text-anchor="start" font-weight="normal"  textLength="91.7" lengthAdjust="spacingAndGlyphs">841.610 (+1.16%)</text>
<text x="8.6" y="36.7" font-family='"Liberation Sans", sans-serif' font-size="12" fill="#383b44" text-anchor="start" font-weight="normal"  textLength="39.6" lengthAdjust="spacingAndGlyphs">Volume</text>
<text x="55.2" y="36.7" font-family='"Liberation Sans", sans-serif' font-size="12" fill="#22ab94" text-anchor="start" font-weight="normal"  textLength="44" lengthAdjust="spacingAndGlyphs">13.175K</text>
<text x="8.6" y="53.7" font-family='"Liberation Sans", sans-serif' font-size="12" fill="#383b44" text-anchor="start" font-weight="normal"  textLength="97.4" lengthAdjust="spacingAndGlyphs">EMA (50, close, 0)</text>
<text x="112.7" y="53.7" font-family='"Liberation Sans", sans-serif' font-size="12" fill="#f23645" text-anchor="start" font-weight="normal"  textLength="59.7" lengthAdjust="spacingAndGlyphs">72,839.624</text>
<text x="8.6" y="70.6" font-family='"Liberation Sans", sans-serif' font-size="12" fill="#383b44" text-anchor="start" font-weight="normal"  textLength="103.3" lengthAdjust="spacingAndGlyphs">EMA (100, close, 0)</text>
<text x="119" y="70.6" font-family='"Liberation Sans", sans-serif' font-size="12" fill="#2962ff" text-anchor="start" font-weight="normal"  textLength="58.2" lengthAdjust="spacingAndGlyphs">79,453.061</text>
<text x="8.6" y="694" font-family='"Liberation Sans", sans-serif' font-size="12" fill="#383b44" text-anchor="start" font-weight="normal"  textLength="42.2" lengthAdjust="spacingAndGlyphs">RSI (14)</text>
<text x="57.2" y="694" font-family='"Liberation Sans", sans-serif' font-size="12" fill="#7e57c2" text-anchor="start" font-weight="normal"  textLength="30.1" lengthAdjust="spacingAndGlyphs">59.57</text>
<text x="7.9" y="870.5" font-family='"Liberation Sans", sans-serif' font-size="12" fill="#383b44" text-anchor="start" font-weight="normal"  textLength="127.2" lengthAdjust="spacingAndGlyphs">MACD (12, 26, close, 9)</text>
<text x="141.3" y="870.5" font-family='"Liberation Sans", sans-serif' font-size="12" fill="#22ab94" text-anchor="start" font-weight="normal"  textLength="42.2" lengthAdjust="spacingAndGlyphs">865.461</text>
<text x="189.9" y="870.5" font-family='"Liberation Sans", sans-serif' font-size="12" fill="#2196f3" text-anchor="start" font-weight="normal"  textLength="43.8" lengthAdjust="spacingAndGlyphs">390.868</text>
<text x="240.1" y="870.5" font-family='"Liberation Sans", sans-serif' font-size="12" fill="#ff6d00" text-anchor="start" font-weight="normal"  textLength="47.3" lengthAdjust="spacingAndGlyphs">-474.593</text>
</svg>
</body></html>
